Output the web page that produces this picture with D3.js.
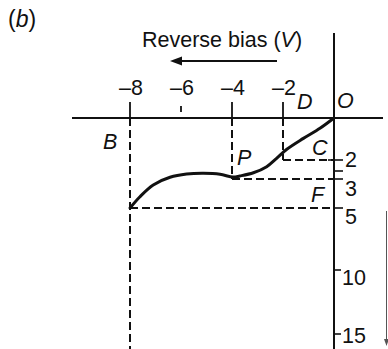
<!DOCTYPE html>
<html>
<head>
<meta charset="utf-8">
<script src="https://cdn.jsdelivr.net/npm/d3@7/dist/d3.min.js"></script>
<style>
  html, body { margin: 0; padding: 0; background: #fff; }
  svg { display: block; }
  text { font-family: "Liberation Sans", Arial, Helvetica, sans-serif; fill: #111; }
</style>
</head>
<body>
<svg id="chart" width="388" height="349"></svg>
<script>
// Reverse-bias characteristic: voltage (V) vs reverse current (µA, drawn downward)
const voltage = [0, -0.55, -1.2, -1.85, -2.25, -2.64, -3.16, -3.69, -3.96, -4.47, -5.12, -5.78, -6.43, -7.09, -7.61, -8.0];
const current = [0, 0.49, 0.97, 1.49, 1.92, 2.35, 2.67, 2.84, 2.9, 2.75, 2.7, 2.74, 2.91, 3.41, 4.22, 5.0];

const xTicks = [-8, -6, -4, -2];
const yTicks = [2, 3, 5, 10, 15];
const yMinorTicks = [2.5];

// Guide points: voltage, current
const guideV = [-2, -4, -8];
const guideI = [2, 3, 5];

// Point labels
const pointNames = ["B", "P", "C", "F", "D", "O"];

const svg = d3.select("#chart");
const ink = "#111";
const fs = 21.5;

const x = d3.scaleLinear().domain([-8, 0]).range([130, 334]);
// Current axis is drawn with an uneven (broken) spacing
const y = d3.scaleLinear().domain([0, 2, 3, 5, 10, 15]).range([118, 160, 179, 208, 270, 334]);
const yLabel = d3.scaleLinear().domain([2, 3, 5, 10, 15]).range([166.5, 196, 224, 285, 343]);

// Axes
svg.append("line").attr("x1", 72).attr("x2", 383).attr("y1", y(0)).attr("y2", y(0))
  .attr("stroke", ink).attr("stroke-width", 2);
svg.append("line").attr("x1", x(0)).attr("x2", x(0)).attr("y1", 33).attr("y2", 349)
  .attr("stroke", ink).attr("stroke-width", 2);

// Voltage ticks (drawn above the axis)
svg.selectAll(".xtick").data(xTicks).join("line")
  .attr("x1", d => x(d)).attr("x2", d => x(d))
  .attr("y1", d => d === -6 ? 106 : 102)
  .attr("y2", d => d === -6 ? 112 : y(0))
  .attr("stroke", ink).attr("stroke-width", 1.8);

svg.selectAll(".xlab").data(xTicks).join("text")
  .attr("x", d => x(d) + 1).attr("y", 95)
  .attr("text-anchor", "middle").attr("font-size", fs)
  .text(d => "\u2013" + Math.abs(d));

// Current ticks
svg.selectAll(".ytick").data(yTicks).join("line")
  .attr("x1", d => d === 2 ? x(0) - 6 : x(0)).attr("x2", d => d >= 10 ? x(0) + 7 : x(0) + 9)
  .attr("y1", d => y(d)).attr("y2", d => y(d))
  .attr("stroke", ink).attr("stroke-width", 1.6);
svg.selectAll(".ymtick").data(yMinorTicks).join("line")
  .attr("x1", x(0)).attr("x2", x(0) + 9)
  .attr("y1", d => y(d) + 1.5).attr("y2", d => y(d) + 1.5)
  .attr("stroke", ink).attr("stroke-width", 1.6);

svg.selectAll(".ylab").data(yTicks).join("text")
  .attr("x", d => d >= 10 ? x(0) + 8 : x(0) + 11).attr("y", d => yLabel(d))
  .attr("font-size", fs)
  .text(d => d);

// Dashed guides
const dash = "8,4";
guideV.forEach((v, i) => {
  const iLevel = guideI[i];
  svg.append("line").attr("x1", x(v)).attr("x2", x(v))
    .attr("y1", y(0)).attr("y2", v === -8 ? 349 : y(iLevel))
    .attr("stroke", ink).attr("stroke-width", 2).attr("stroke-dasharray", dash);
  svg.append("line").attr("x1", x(v)).attr("x2", x(0))
    .attr("y1", y(iLevel)).attr("y2", y(iLevel))
    .attr("stroke", ink).attr("stroke-width", 2).attr("stroke-dasharray", dash);
});

// Characteristic curve
const pts = voltage.map((v, i) => [v, current[i]]);
svg.append("path").datum(pts)
  .attr("d", d3.line().x(d => x(d[0])).y(d => y(d[1])).curve(d3.curveCatmullRom.alpha(0.5)))
  .attr("fill", "none").attr("stroke", ink).attr("stroke-width", 3).attr("stroke-linecap", "round");

// Point labels (italic)
const labelPos = {
  B: [103, 149], P: [237, 165], C: [312, 155], F: [311, 202], D: [297, 109], O: [337, 108]
};
svg.selectAll(".plab").data(pointNames).join("text")
  .attr("x", d => labelPos[d][0]).attr("y", d => labelPos[d][1])
  .attr("font-size", fs).attr("font-style", "italic")
  .text(d => d);

// Panel tag
const tag = svg.append("text").attr("x", 8).attr("y", 27).attr("font-size", 23);
tag.append("tspan").text("(");
tag.append("tspan").attr("font-style", "italic").text("b");
tag.append("tspan").text(")");

// Axis title with direction arrow
const title = svg.append("text").attr("x", 142).attr("y", 47).attr("font-size", fs);
title.append("tspan").text("Reverse bias (");
title.append("tspan").attr("font-style", "italic").text("V");
title.append("tspan").text(")");

svg.append("line").attr("x1", 277).attr("x2", 176).attr("y1", 61).attr("y2", 61)
  .attr("stroke", ink).attr("stroke-width", 2.2);
svg.append("path").attr("d", "M170,61 L182,56.5 L182,65.5 Z").attr("fill", ink);

// Current-direction arrow at the right edge
svg.append("line").attr("x1", 386.5).attr("x2", 386.5).attr("y1", 211).attr("y2", 342)
  .attr("stroke", "#555").attr("stroke-width", 1);
svg.append("path").attr("d", "M386.5,346 L384,339 L389,339 Z").attr("fill", "#555");
</script>
</body>
</html>
